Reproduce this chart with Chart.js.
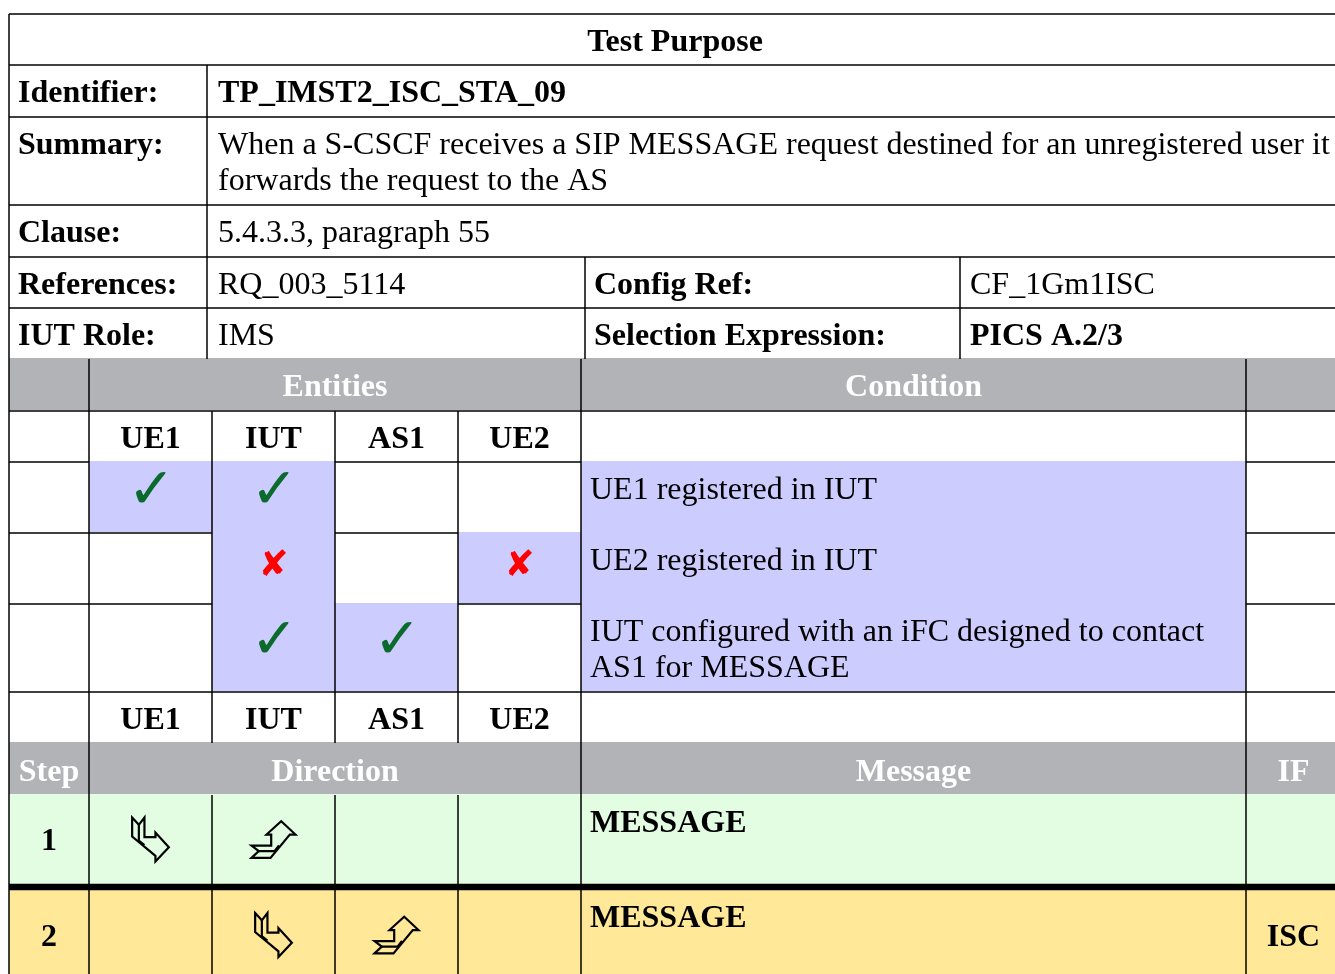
<!DOCTYPE html>
<html>
<head>
<meta charset="utf-8">
<title>Test Purpose TP_IMST2_ISC_STA_09</title>
<script src="https://cdn.jsdelivr.net/npm/chart.js@4.4.1/dist/chart.umd.min.js"></script>
<style>
  html, body { margin: 0; padding: 0; background: #fff; overflow: hidden; }
  #wrap { width: 1335px; height: 974px; }
</style>
</head>
<body>
<div id="wrap"><canvas id="tp" width="1335" height="974"></canvas></div>
<script>
// ==== TABLE CONTENT ====
const title = "Test Purpose";
const infoLabels = ["Identifier:", "Summary:", "Clause:", "References:", "IUT Role:"];
const infoValues = [
  "TP_IMST2_ISC_STA_09",
  "When a S-CSCF receives a SIP MESSAGE request destined for an unregistered user it\nforwards the request to the AS",
  "5.4.3.3, paragraph 55",
  "RQ_003_5114",
  "IMS"
];
const infoBold = [true, false, false, false, false];
const sideLabels = ["Config Ref:", "Selection Expression:"];
const sideValues = ["CF_1Gm1ISC", "PICS A.2/3"];
const sideBold = [false, true];

const entities = ["UE1", "IUT", "AS1", "UE2"];
const conditions = [
  "UE1 registered in IUT",
  "UE2 registered in IUT",
  "IUT configured with an iFC designed to contact\nAS1 for MESSAGE"
];
// 1 = check, -1 = cross, 0 = empty (one row per condition, one column per entity)
const conditionMarks = [
  [1, 1, 0, 0],
  [0, -1, 0, -1],
  [0, 1, 1, 0]
];

const headersTop = ["Entities", "Condition"];
const headersSteps = ["Step", "Direction", "Message", "IF"];
const steps = ["1", "2"];
const stepFrom = [0, 1];   // entity index sending
const stepTo = [1, 2];     // entity index receiving
const messages = ["MESSAGE", "MESSAGE"];
const interfaces = ["", "ISC"];

// ==== GRID LAYOUT (frame units) ====
const colX = [9, 89, 212, 335, 458, 581, 1246, 1341];
const infoCols = [9, 207, 585, 960, 1341];
const rowY = [14, 65, 117, 205, 257, 308, 359, 411, 462, 533, 604, 692, 743, 795, 887, 980];

const SERIF = "'Liberation Serif', 'Times New Roman', serif";
const FS = 32;
const LINE_H = 36;
const GRAY = "#b1b3b6";
const LAVENDER = "#ccccff";
const STEP_COLORS = ["#e3fde3", "#ffe998"];

// outline arrow glyph (tail on top, turns right), in a 36.7 x 44 box
const arrowShape = [[0, 0], [6.7, 7.3], [12.3, 0], [12.3, 19.7], [23.3, 19.7], [23.3, 15],
  [36.7, 29.7], [23.3, 44], [23.3, 38.3], [0, 19]];
const arrowFold = [[6.7, 7.3], [6.7, 23], [12.3, 27.5]];

const tablePlugin = {
  id: "testPurposeTable",
  beforeDraw(chart) {
    const ctx = chart.ctx;
    const sx = chart.scales.x, sy = chart.scales.y;
    const X = v => sx.getPixelForValue(v);
    const Y = v => sy.getPixelForValue(v);
    const left = colX[0], right = colX[colX.length - 1];

    ctx.save();
    ctx.fillStyle = "#fff";
    ctx.fillRect(0, 0, chart.width, chart.height);

    // ==== HORIZONTAL RULES ====
    ctx.strokeStyle = "#000";
    ctx.lineWidth = 1.5;
    const hLine = (y, x0, x1) => {
      ctx.beginPath();
      ctx.moveTo(X(x0), Y(y));
      ctx.lineTo(X(x1), Y(y));
      ctx.stroke();
    };
    rowY.forEach((y, i) => {
      if (i === 6 || i === 13 || i === 14 || i === rowY.length - 1) return;
      hLine(y, left, right);
    });

    // ==== CELL FILLS (cover their top rule) ====
    const fillCell = (x0, x1, y0, y1, color) => {
      ctx.fillStyle = color;
      ctx.fillRect(X(x0), Y(y0) - 1, X(x1) - X(x0), Y(y1) - Y(y0));
    };
    fillCell(left, right, rowY[6], rowY[7], GRAY);
    fillCell(left, right, rowY[12], rowY[13], GRAY);
    conditionMarks.forEach((row, r) => {
      row.forEach((m, c) => {
        if (m !== 0) fillCell(colX[c + 1], colX[c + 2], rowY[8 + r], rowY[9 + r], LAVENDER);
      });
      fillCell(colX[5], colX[6], rowY[8 + r], rowY[9 + r], LAVENDER);
    });
    steps.forEach((s, i) => {
      fillCell(left, right, rowY[13 + i], rowY[14 + i], STEP_COLORS[i]);
    });

    // ==== VERTICAL RULES ====
    const vLine = (x, y0, y1) => {
      ctx.beginPath();
      ctx.moveTo(X(x), Y(y0));
      ctx.lineTo(X(x), Y(y1));
      ctx.stroke();
    };
    vLine(left, rowY[0], rowY[rowY.length - 1]);
    vLine(infoCols[1], rowY[1], rowY[6]);
    vLine(infoCols[2], rowY[4], rowY[6]);
    vLine(infoCols[3], rowY[4], rowY[6]);
    [colX[1], colX[5], colX[6]].forEach(x => vLine(x, rowY[6], rowY[rowY.length - 1]));
    [colX[2], colX[3], colX[4]].forEach(x => {
      vLine(x, rowY[7], rowY[12]);
      vLine(x, rowY[13], rowY[rowY.length - 1]);
    });

    // thick rule between the two steps
    ctx.lineWidth = 6.5;
    hLine(rowY[14], left, right);

    // ==== TEXT ====
    const text = (str, x, y, opts) => {
      const o = opts || {};
      ctx.font = (o.bold ? "bold " : "") + FS + "px " + SERIF;
      ctx.fillStyle = o.color || "#000";
      ctx.textAlign = o.align || "left";
      ctx.textBaseline = "alphabetic";
      str.split("\n").forEach((ln, k) => ctx.fillText(ln, X(x), Y(y) + k * LINE_H));
    };
    const BASE = 37;
    const mid = (a, b) => (a + b) / 2;

    text(title, mid(left, right), rowY[0] + BASE, { bold: true, align: "center" });
    infoLabels.forEach((lab, i) => {
      const top = rowY[1 + i];
      text(lab, left + 9, top + BASE, { bold: true });
      text(infoValues[i], infoCols[1] + 11, top + BASE, { bold: infoBold[i] });
    });
    sideLabels.forEach((lab, i) => {
      const top = rowY[4 + i];
      text(lab, infoCols[2] + 9, top + BASE, { bold: true });
      text(sideValues[i], infoCols[3] + 10, top + BASE, { bold: sideBold[i] });
    });

    text(headersTop[0], mid(colX[1], colX[5]), rowY[6] + BASE, { bold: true, align: "center", color: "#fff" });
    text(headersTop[1], mid(colX[5], colX[6]), rowY[6] + BASE, { bold: true, align: "center", color: "#fff" });

    entities.forEach((e, c) => {
      const cx = mid(colX[c + 1], colX[c + 2]);
      text(e, cx, rowY[7] + BASE, { bold: true, align: "center" });
      text(e, cx, rowY[11] + BASE, { bold: true, align: "center" });
    });

    conditions.forEach((cond, r) => {
      text(cond, colX[5] + 9, rowY[8 + r] + BASE, {});
      conditionMarks[r].forEach((m, c) => {
        if (m === 0) return;
        const cx = X(mid(colX[c + 1], colX[c + 2]));
        const top = rowY[8 + r], h = rowY[9 + r] - top;
        ctx.textAlign = "center";
        ctx.textBaseline = "middle";
        if (m > 0) {
          ctx.font = "bold 57px 'DejaVu Sans', sans-serif";
          ctx.fillStyle = "#0b6b2c";
          ctx.fillText("\u2713", cx + 1, Y(top + h * 0.44));
        } else {
          ctx.font = "bold 36px 'DejaVu Sans', sans-serif";
          ctx.fillStyle = "#ff0000";
          ctx.fillText("\u2718", cx, Y(top + h * 0.47));
        }
      });
    });

    const headerCols = [[colX[0], colX[1]], [colX[1], colX[5]], [colX[5], colX[6]], [colX[6], colX[7]]];
    headersSteps.forEach((h, i) => {
      text(h, mid(headerCols[i][0], headerCols[i][1]), rowY[12] + BASE + 1, { bold: true, align: "center", color: "#fff" });
    });

    const drawArrow = (cx, cy, incoming) => {
      ctx.save();
      ctx.translate(X(cx), Y(cy));
      if (incoming) ctx.rotate(-Math.PI / 2);
      ctx.translate(-18.35, -22);
      ctx.lineWidth = 2.2;
      ctx.lineJoin = "miter";
      ctx.strokeStyle = "#000";
      ctx.beginPath();
      arrowShape.forEach((p, k) => (k ? ctx.lineTo(p[0], p[1]) : ctx.moveTo(p[0], p[1])));
      ctx.closePath();
      ctx.stroke();
      ctx.beginPath();
      arrowFold.forEach((p, k) => (k ? ctx.lineTo(p[0], p[1]) : ctx.moveTo(p[0], p[1])));
      ctx.stroke();
      ctx.restore();
    };

    steps.forEach((s, i) => {
      const top = rowY[13 + i] + (i ? 3 : 0), bot = rowY[14 + i] - (i ? 0 : 3);
      const cy = mid(top, bot);
      text(s, mid(colX[0], colX[1]), cy + 10.5, { bold: true, align: "center" });
      drawArrow(mid(colX[stepFrom[i] + 1], colX[stepFrom[i] + 2]), cy, false);
      drawArrow(mid(colX[stepTo[i] + 1], colX[stepTo[i] + 2]), cy, true);
      text(messages[i], colX[5] + 9, top + BASE, { bold: true });
      if (interfaces[i]) text(interfaces[i], mid(colX[6], colX[7]), cy + 10.5, { bold: true, align: "center" });
    });

    ctx.restore();
  }
};

new Chart(document.getElementById("tp"), {
  type: "scatter",
  data: { datasets: [{ data: [], pointRadius: 0 }] },
  options: {
    responsive: false,
    animation: false,
    devicePixelRatio: 1,
    layout: { padding: 0 },
    plugins: { legend: { display: false }, tooltip: { enabled: false } },
    scales: {
      x: { type: "linear", min: 0, max: 1335, display: false },
      y: { type: "linear", min: 0, max: 974, reverse: true, display: false }
    }
  },
  plugins: [tablePlugin]
});
</script>
</body>
</html>
